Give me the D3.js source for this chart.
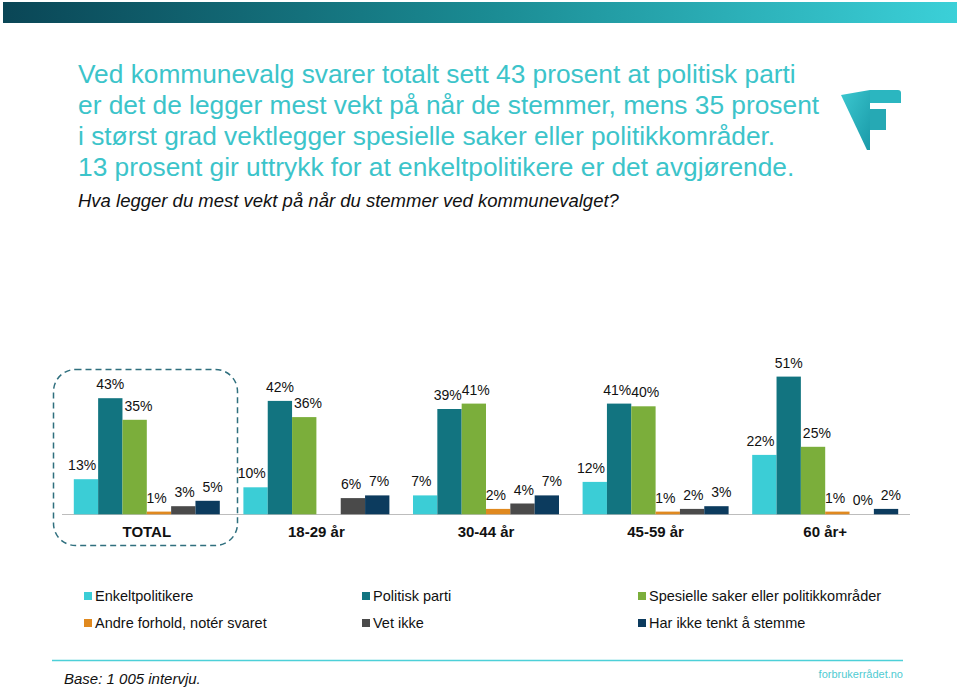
<!DOCTYPE html>
<html><head><meta charset="utf-8">
<script src="https://cdn.jsdelivr.net/npm/d3@7"></script>
<style>body{margin:0;background:#fff}svg{display:block;font-family:"Liberation Sans",Arial,sans-serif}</style>
</head><body><svg id="c" width="960" height="688"></svg>
<script>
const categories = ["TOTAL", "18-29 år", "30-44 år", "45-59 år", "60 år+"];
const seriesNames = ["Enkeltpolitikere", "Politisk parti", "Spesielle saker eller politikkområder", "Andre forhold, notér svaret", "Vet ikke", "Har ikke tenkt å stemme"];
const enkeltpolitikere = [13, 10, 7, 12, 22];
const politiskParti = [43, 42, 39, 41, 51];
const spesielleSaker = [35, 36, 41, 40, 25];
const andreForhold = [1, null, 2, 1, 1];
const vetIkke = [3, 6, 4, 2, 0];
const harIkkeTenkt = [5, 7, 7, 3, 2];
const colors = ["#3bcdd6", "#127480", "#7bae3b", "#e0891f", "#4a4a4a", "#0c3b5e"];
const titleLines = ["Ved kommunevalg svarer totalt sett 43 prosent at politisk parti", "er det de legger mest vekt på når de stemmer, mens 35 prosent", "i størst grad vektlegger spesielle saker eller politikkområder.", "13 prosent gir uttrykk for at enkeltpolitikere er det avgjørende."];
const subtitle = "Hva legger du mest vekt på når du stemmer ved kommunevalget?";

const seriesValues = [enkeltpolitikere, politiskParti, spesielleSaker, andreForhold, vetIkke, harIkkeTenkt];
const svg = d3.select("#c");
const defs = svg.append("defs");
const g1 = defs.append("linearGradient").attr("id","bn");
g1.append("stop").attr("offset","0").attr("stop-color","#0a4656");
g1.append("stop").attr("offset","0.5").attr("stop-color","#1a8a92");
g1.append("stop").attr("offset","1").attr("stop-color","#3bd0d8");
svg.append("rect").attr("x",3).attr("y",2).attr("width",954).attr("height",21).attr("fill","url(#bn)");

// title
svg.append("g").selectAll("text").data(titleLines).join("text")
  .attr("x",78).attr("y",(d,i)=>83+i*31).attr("fill","#3cc4ca").attr("font-size",26.3).text(d=>d);
svg.append("text").attr("x",78).attr("y",207).attr("font-size",18.5).attr("font-style","italic").attr("fill","#111").text(subtitle);

// logo
const lg = defs.append("linearGradient").attr("id","lg").attr("x1",0).attr("y1",0).attr("x2",1).attr("y2",1);
lg.append("stop").attr("offset","0").attr("stop-color","#3cc8d0");
lg.append("stop").attr("offset","1").attr("stop-color","#1a9aa8");
const logo = svg.append("g");
logo.append("path").attr("d","M841,95 L870,90 L870,150 L867,150 Z").attr("fill","url(#lg)");
logo.append("path").attr("d","M870,90 L898,90 Q901,90 901,93 L901,103 L870,103 Z").attr("fill","#2bb6c0");
logo.append("path").attr("d","M870,109 L886,109 L886,130 L870,130 Z").attr("fill","#26a9b4");

// chart
const x0 = d3.scaleBand().domain(categories).range([62,910]);
const x1 = d3.scaleBand().domain(d3.range(6)).range([11.8, x0.bandwidth()-11.8]);
const y = d3.scaleLinear().domain([0,51]).range([514.3, 376.6]);

svg.append("line").attr("x1",62).attr("x2",910).attr("y1",514.5).attr("y2",514.5).attr("stroke","#bdbdbd").attr("stroke-width",1);

const data = [];
categories.forEach((c,ci)=>seriesValues.forEach((s,si)=>data.push({c,si,v:s[ci]})));
const shown = data.filter(d=>d.v!==null);
svg.append("g").selectAll("rect").data(shown).join("rect")
  .attr("x",d=>x0(d.c)+x1(d.si)).attr("width",x1.bandwidth())
  .attr("y",d=>y(d.v)).attr("height",d=>y(0)-y(d.v)).attr("fill",d=>colors[d.si]);

// label positions: avoid taller neighbour bars, then nudge overlapping labels apart
const labW = 28;
shown.forEach(d=>{ d.lx = x0(d.c)+x1(d.si)+x1.bandwidth()/2; d.ly = y(d.v)-9; });
categories.forEach(c=>{
  const L = shown.filter(d=>d.c===c).sort((a,b)=>a.si-b.si);
  L.forEach((d,i)=>{
    const bx = x0(c)+x1(d.si), bw = x1.bandwidth();
    const prev = L.find(e=>e.si===d.si-1), next = L.find(e=>e.si===d.si+1);
    if (prev && y(prev.v) < d.ly && d.lx - labW/2 < bx + 2) d.lx = bx + 2 + labW/2;
    else if (next && y(next.v) < d.ly && d.lx + labW/2 > bx + bw - 2) d.lx = bx + bw - 2 - labW/2;
  });
  for(let k=0;k<4;k++) for(let i=1;i<L.length;i++){
    const a=L[i-1], b=L[i];
    const ov = labW - (b.lx - a.lx);
    if (ov>0 && Math.abs(a.ly-b.ly)<14){ a.lx -= ov/2; b.lx += ov/2; }
  }
});
svg.append("g").selectAll("text").data(shown).join("text")
  .attr("x",d=>d.lx).attr("y",d=>d.ly)
  .attr("text-anchor","middle").attr("font-size",14).attr("fill","#111").text(d=>d.v+"%");

// category labels
svg.append("g").selectAll("text").data(categories).join("text")
  .attr("x",d=>x0(d)+x0.bandwidth()/2).attr("y",537).attr("text-anchor","middle")
  .attr("font-size",15).attr("font-weight","bold").attr("fill","#111").text(d=>d);

// dashed highlight
svg.append("rect").attr("x",53.5).attr("y",369.5).attr("width",184).attr("height",176).attr("rx",22)
  .attr("fill","none").attr("stroke","#2f6f7e").attr("stroke-width",1.5).attr("stroke-dasharray","6,4");

// legend
const lx = [84, 362, 638], ly = [596, 623];
const leg = svg.append("g").selectAll("g").data(seriesNames).join("g")
  .attr("transform",(d,i)=>`translate(${lx[i%3]},${ly[Math.floor(i/3)]})`);
leg.append("rect").attr("x",0).attr("y",-4).attr("width",8).attr("height",8).attr("fill",(d,i)=>colors[i]);
leg.append("text").attr("x",11).attr("y",5).attr("font-size",14.5).attr("fill","#111").text(d=>d);

// footer
svg.append("line").attr("x1",52).attr("x2",903).attr("y1",660.5).attr("y2",660.5).attr("stroke","#4dd0d8").attr("stroke-width",1.5);
svg.append("text").attr("x",64).attr("y",684).attr("font-size",15).attr("font-style","italic").attr("fill","#111").text("Base: 1 005 intervju.");
svg.append("text").attr("x",903).attr("y",678).attr("text-anchor","end").attr("font-size",11).attr("fill","#4fcbd2").text("forbrukerrådet.no");
</script></body></html>
